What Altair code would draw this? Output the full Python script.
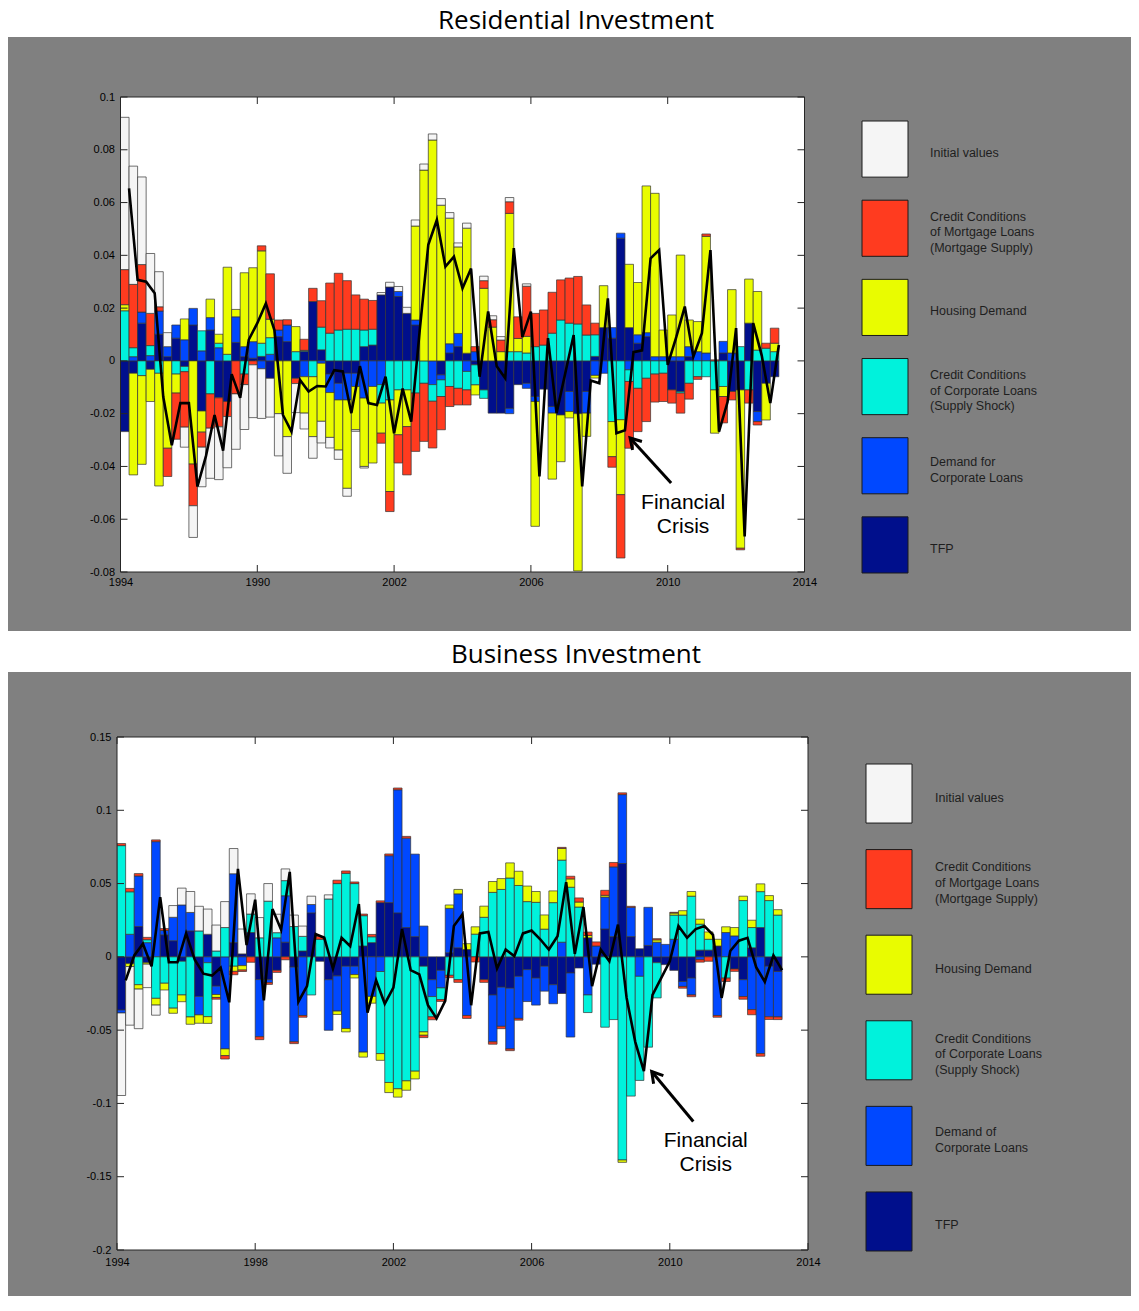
import altair as alt
import pandas as pd

N = 77
START_YEAR = 1994

COMP_KEYS = ["init", "mort", "house", "csup", "cdem", "tfp"]
COMP_COLORS = ["#f5f5f5", "#ff3b1f", "#e9fc00", "#00f2dc", "#0048ff", "#000f8c"]
STACK_ORDER = ["tfp", "cdem", "csup", "house", "mort", "init"]

res_title = "Residential Investment"
bus_title = "Business Investment"

res_legend_labels = ["Initial values",
                     "Credit Conditions\nof Mortgage Loans\n(Mortgage Supply)",
                     "Housing Demand",
                     "Credit Conditions\nof Corporate Loans\n(Supply Shock)",
                     "Demand for\nCorporate Loans",
                     "TFP"]
bus_legend_labels = ["Initial values",
                     "Credit Conditions\nof Mortgage Loans\n(Mortgage Supply)",
                     "Housing Demand",
                     "Credit Conditions\nof Corporate Loans\n(Supply Shock)",
                     "Demand of\nCorporate Loans",
                     "TFP"]

xtick_values = [1994, 1998, 2002, 2006, 2010, 2014]
res_xtick_labels = ["1994", "1990", "2002", "2006", "2010", "2014"]
bus_xtick_labels = ["1994", "1998", "2002", "2006", "2010", "2014"]
res_ytick_values = [-0.08, -0.06, -0.04, -0.02, 0, 0.02, 0.04, 0.06, 0.08, 0.1]
res_ytick_labels = ["-0.08", "-0.06", "-0.04", "-0.02", "0", "0.02", "0.04", "0.06", "0.08", "0.1"]
bus_ytick_values = [-0.2, -0.15, -0.1, -0.05, 0, 0.05, 0.1, 0.15]
bus_ytick_labels = ["-0.2", "-0.15", "-0.1", "-0.05", "0", "0.05", "0.1", "0.15"]

# ---------------- Residential investment (top) ----------------
res_init = [0.0577, 0.0448, 0.0332, 0.0227, 0.0133, 0.0053, 0, -0.0076, -0.012, -0.015,
            -0.019, -0.020, -0.0194, -0.021, -0.017, -0.020, -0.0188, -0.0147, -0.016, -0.0139,
            -0.011, -0.006, -0.0082, -0.0082, -0.004, -0.0035, -0.003, -0.0006, -0.0006, 0,
            0.0009, 0.0018, 0.0019, 0.0023, 0.0023, 0.0023, 0.0023, 0.0025, 0.0021, 0.0015,
            0.0019, 0, 0.0017, 0.0015, 0.0013, 0.0016, 0, 0.0009, 0, 0,
            0, 0, 0, 0, 0, 0, 0, 0, 0, 0,
            0, 0, 0, 0, 0, 0, 0, 0, 0, 0,
            0, 0, 0, 0, 0, 0, 0]
res_mort = [0.0133, 0.024, 0.018, 0.0122, 0.0016, -0.0107, -0.0175, -0.021, -0.0158, -0.0057,
            -0.013, -0.011, -0.0057, -0.0125, -0.004, -0.0015, 0.0019, 0.0172, 0.0038, 0.002,
            -0.002, 0.0042, 0.005, 0.010, 0.019, 0.0215, 0.0184, 0.013, 0.0117, 0.0109,
            -0.0038, -0.0076, -0.0107, -0.0183, -0.0221, -0.022, -0.0177, -0.0126, -0.0076, -0.0063,
            -0.0057, 0.0019, 0.0029, 0.0028, 0.0044, 0.0044, 0.0082, 0.019, 0.0126, 0.0133,
            0.0155, 0.0152, 0.0171, 0.018, 0.0114, 0.0044, 0, -0.004, -0.024, -0.0253,
            -0.0164, -0.0164, -0.0106, -0.0107, -0.005, -0.0076, -0.006, -0.001, 0.0009, 0.0004,
            -0.010, -0.0032, -0.0006, -0.005, -0.0013, 0.0019, 0.0057]
res_house = [0.0023, -0.0385, -0.0336, -0.0122, -0.0427, -0.0331, -0.0072, 0.0079, -0.0391, -0.008,
             0.007, 0.0034, 0.033, 0.0028, 0.028, 0.028, 0.035, 0.007, -0.020, -0.0287,
             0.0095, -0.0138, -0.0227, -0.022, -0.017, -0.019, -0.0335, -0.0164, -0.0259, -0.029,
             -0.0114, -0.0347, -0.017, -0.0139, 0.0356, 0.0723, 0.0837, 0.059, 0.0476, 0.0328,
             0.0474, -0.0038, 0.0275, 0.0128, 0.0035, 0.0524, 0.005, 0.0063, -0.0473, 0,
             -0.025, -0.0177, -0.0024, -0.0596, -0.0088, -0.001, 0.0159, -0.0133, -0.0284, 0.024,
             0.0198, 0.0556, 0.0619, 0.0101, 0.0158, 0.0385, 0.0101, 0.0114, 0.0442, -0.0164,
             -0.0038, 0.024, -0.060, 0.0167, 0.0222, -0.0139, 0.0032]
res_csup = [0.019, 0.0034, -0.0056, 0.0038, -0.0047, 0, -0.005, -0.002, 0, 0.0076,
            -0.0125, 0.0017, 0.0025, 0, -0.005, 0, 0.005, 0.0063, 0, 0,
            0.0035, 0.0004, -0.006, 0.0086, 0.0105, 0.0117, 0.012, 0.012, 0.0063, 0.006,
            -0.007, -0.0148, -0.011, -0.011, -0.0122, -0.0085, -0.0063, -0.0063, -0.0097, -0.0104,
            -0.007, -0.0076, -0.0032, 0, 0, 0.0035, 0.0035, 0.003, 0.0054, 0.006,
            0.0105, 0.0155, 0.0143, 0.014, 0.0098, 0.0082, 0, -0.023, -0.0223, -0.0044,
            -0.0104, -0.0066, -0.005, -0.0047, 0, -0.0006, -0.0085, -0.006, -0.006, -0.011,
            -0.0097, 0, 0.0054, -0.011, 0.0041, 0.0048, 0.0035]
res_cdem = [0, 0.0016, 0.0042, 0.002, 0.0088, 0.0038, 0.005, 0.008, 0.0063, 0.0038,
            0.0047, 0.005, 0, 0.0097, 0.0038, 0.0063, -0.003, 0.0025, 0.0025, 0.0063,
            0, -0.006, 0, -0.0009, -0.007, -0.0063, -0.0101, -0.005, -0.0141, -0.0097,
            -0.009, 0, 0.0019, 0, 0.0019, 0, -0.009, -0.0019, 0.0035, 0.005,
            -0.004, 0.0035, 0, 0, 0, -0.002, 0, -0.0019, -0.0019, 0,
            -0.0025, 0, -0.0076, 0, -0.0082, -0.0055, -0.0047, 0.004, 0.0019, -0.0034,
            0.0032, 0.0015, 0.0016, 0.0016, 0.0016, 0.0016, 0.0038, 0.0035, 0.003, 0,
            0.0044, 0.003, 0, 0, -0.0038, 0, 0]
res_tfp = [-0.0268, -0.0047, 0.0143, -0.0032, 0.0101, 0.0016, 0.0086, -0.0021, 0.0136, -0.019,
           0.0117, -0.014, -0.0154, 0.007, 0.0016, 0.001, 0.0017, -0.0066, 0.0092, 0.0073,
           -0.0066, 0.0036, 0.0225, 0.0042, -0.005, -0.0085, -0.0047, -0.0047, 0.0054, 0.006,
           0.025, 0.028, 0.0244, 0.018, 0.0136, 0, 0, -0.0053, 0.003, 0.0054,
           0.0029, -0.0015, -0.011, -0.0198, -0.0198, -0.018, -0.009, -0.0085, -0.0135, -0.0107,
           -0.0173, -0.0205, -0.0116, -0.020, -0.0116, 0.0017, 0.0126, 0.0086, 0.0465, 0.0126,
           0.0067, 0.0092, 0, 0, -0.011, -0.0116, 0.0016, 0, 0, 0,
           0.003, -0.0116, -0.011, 0.0143, -0.0192, -0.0085, -0.006]
res_line = [0.0654, 0.0307, 0.030, 0.0256, -0.0136, -0.032, -0.016, -0.016, -0.0476, -0.036,
            -0.0205, -0.034, -0.005, -0.014, 0.008, 0.0143, 0.0218, 0.0117, -0.0205, -0.0268,
            -0.0072, -0.0116, -0.0095, -0.0097, -0.0035, -0.004, -0.0198, -0.002, -0.016, -0.0167,
            -0.006, -0.0274, -0.0105, -0.023, 0.0117, 0.044, 0.0534, 0.0357, 0.0395, 0.0275,
            0.035, -0.006, 0.0187, -0.002, -0.0066, 0.0427, 0.009, 0.0187, -0.0438, 0.0086,
            -0.0198, -0.005, 0.0098, -0.0476, -0.0074, -0.0085, 0.0237, -0.0274, -0.0263, 0.0033,
            0.004, 0.0389, 0.042, -0.0015, 0.009, 0.0206, 0.0016, 0.0105, 0.042, -0.0268,
            -0.0156, 0.0124, -0.0665, 0.0143, 0.002, -0.016, 0.006]

# ---------------- Business investment (bottom) ----------------
bus_init = [-0.0563, -0.040, -0.027, -0.016, -0.0069, 0, 0.008, 0.0115, 0.0143, 0.0168,
            0.0172, 0.0177, 0.0177, 0.0172, 0.017, 0.0138, 0.0138, 0.012, 0.0126, 0.008,
            0.0078, 0.007, 0.0057, 0, 0.0028, 0, 0, 0, 0, 0,
            0, 0, 0, 0, 0, 0, 0, 0, 0, 0,
            0, 0, 0, 0, 0, 0, 0, 0, 0, 0,
            0, 0, 0, 0, 0, 0, 0, 0, 0, 0,
            0, 0, 0, 0, 0, 0, 0, 0, 0, 0,
            0, 0, 0, 0, 0, 0, 0]
bus_mort = [0.0014, 0.0023, 0.0016, 0.0016, 0.0012, 0.0013, 0, 0, 0, 0,
            0, -0.0012, -0.0023, -0.0023, -0.001, -0.0037, -0.002, -0.0012, -0.0014, -0.002,
            -0.0012, -0.0012, 0, 0.002, 0, 0.0023, 0.0016, 0.0011, 0.0011, 0.0016,
            0.0012, 0.0012, 0.0012, 0.0012, 0, -0.0016, -0.002, -0.0012, -0.0016, -0.0018,
            -0.002, -0.0035, -0.0018, -0.0016, -0.0016, -0.0012, -0.0012, 0, 0, 0,
            0, 0.0007, 0.0018, 0.0028, 0.0023, 0.0028, 0.0034, 0.003, 0.0012, 0.0007,
            0, 0, 0.0008, 0, 0.0005, -0.0012, -0.0012, -0.0016, -0.003, -0.0012,
            -0.0023, -0.0016, -0.0018, -0.0035, -0.0018, -0.0018, -0.0018]
bus_house = [0, -0.002, -0.003, -0.001, -0.0046, -0.0046, -0.0035, -0.0046, -0.005, -0.0057,
             -0.0046, -0.002, -0.0046, -0.0035, -0.003, 0, 0, 0, 0, 0,
             0, 0, 0, 0, 0, -0.0023, -0.0023, -0.0023, -0.0034, -0.0046,
             -0.0046, -0.0069, -0.0057, -0.0064, -0.0053, -0.0023, 0, 0, 0.0023, 0.003,
             0.004, 0.005, 0.0076, 0.0074, 0.0074, 0.0103, 0.0097, 0.0106, 0.0074, 0.0097,
             0.008, 0.008, 0.0057, 0.0034, 0.0016, 0, 0.0012, 0, -0.0016, 0,
             0, 0, 0.0016, 0, 0.0014, 0.003, 0.0032, 0.0034, 0.005, 0.0046,
             0.0039, 0.0057, 0.003, 0.005, 0.0053, 0.0034, 0.0037]
bus_csup = [0.0759, 0.029, -0.019, 0.002, -0.0283, -0.018, -0.035, -0.023, -0.041, 0.0177,
            -0.0368, 0.004, 0.020, -0.0064, 0, 0.0126, 0.013, 0.038, 0.0035, 0.0103,
            0.0207, 0.010, -0.026, 0.012, 0.0395, 0.050, 0.057, 0.050, 0.0207, 0.004,
            -0.056, -0.0857, -0.090, -0.0846, -0.078, -0.0448, -0.0138, -0.008, -0.0126, -0.0156,
            0, 0.0155, 0.027, 0.044, 0.046, 0.0538, 0.0487, 0.0377, 0.0372, 0.0189,
            0.037, 0.056, 0.0475, 0.034, -0.012, 0, -0.048, -0.0428, -0.1386, -0.095,
            -0.071, -0.0616, -0.024, 0, 0.0165, 0.0285, 0.0414, 0.0177, 0.0074, 0,
            -0.0145, 0, 0.0384, 0.0138, 0.0245, 0.0384, 0.0285]
bus_cdem = [-0.002, 0.0154, 0.0345, 0.0097, 0.0786, 0.003, 0.016, 0.0354, 0.0126, -0.0126,
            -0.004, -0.0057, -0.0628, 0.047, -0.006, 0, -0.039, -0.002, 0.013, 0.0317,
            -0.051, -0.040, 0.0057, 0, -0.0345, -0.024, -0.0425, -0.0057, -0.065, -0.027,
            -0.010, 0.032, 0.084, 0.061, 0.0563, 0.021, -0.0115, -0.012, 0.0303, 0.0368,
            -0.040, 0, 0, -0.032, -0.0267, -0.0414, -0.0287, -0.0218, -0.0184, -0.017,
            -0.013, 0.010, -0.0437, 0, -0.026, 0.0074, 0.0218, 0.0476, 0.047, 0.020,
            -0.0133, 0.026, 0.010, 0.0085, 0.012, -0.0034, -0.0115, -0.002, 0, -0.040,
            0.0166, 0.0143, -0.0115, -0.036, -0.066, -0.0345, -0.031]
bus_tfp = [-0.0363, -0.0046, 0.0207, -0.004, 0, 0.015, 0.011, -0.003, 0.0177, -0.027,
           0.0154, -0.020, 0, 0.0097, 0.002, 0.0166, -0.0155, -0.0156, -0.0092, 0.010,
           -0.007, 0.004, 0.030, -0.003, -0.0156, -0.013, -0.0064, -0.0064, 0.0074, 0.0097,
           0.037, 0.037, 0.030, 0.020, 0.0138, -0.0064, -0.0156, -0.0092, 0.0028, 0.0062,
           0.005, 0, -0.0156, -0.026, -0.0207, -0.0214, -0.0133, -0.0087, -0.0145, -0.0064,
           -0.019, -0.025, -0.011, -0.0076, 0.013, -0.005, 0.019, 0.0138, 0.0637, 0.0138,
           0.0055, 0.0078, -0.004, -0.0053, -0.0092, -0.0168, -0.0145, 0.0046, 0.0046, 0.0074,
           0, -0.0083, -0.0156, 0.0062, 0.020, -0.0064, -0.010]
bus_line = [-0.016, 0.001, 0.009, -0.0065, 0.0407, -0.0037, -0.0037, 0.016, -0.002, -0.0115,
            -0.0128, -0.0074, -0.031, 0.060, 0.008, 0.039, -0.0297, 0.0326, 0.0185, 0.058,
            -0.0306, -0.020, 0.0155, 0.013, -0.008, 0.013, 0.0073, 0.036, -0.038, -0.016,
            -0.032, -0.021, 0.019, -0.009, -0.012, -0.033, -0.042, -0.030, 0.021, 0.029,
            -0.033, 0.016, 0.017, -0.008, 0.005, 0.0005, 0.016, 0.018, 0.012, 0.005,
            0.014, 0.051, 0.002, 0.034, -0.020, 0.005, -0.003, 0.022, -0.028, -0.058,
            -0.078, -0.026, -0.0145, -0.003, 0.021, 0.013, 0.019, 0.021, 0.015, -0.028,
            0.004, 0.011, 0.013, -0.007, -0.017, 0.001, -0.009]

# annotation anchors (year, value); text anchor is the centre of its first line
res_ann_text = [2010.45, -0.0540]
res_ann_tail = [2010.10, -0.0463]
res_ann_tip = [2008.90, -0.0292]
bus_ann_text = [2011.04, -0.1255]
bus_ann_tail = [2010.68, -0.1123]
bus_ann_tip = [2009.476, -0.0782]

GREY = "#808080"
FRAME = "#262626"
AXFONT = "Liberation Sans"
ARROW_PATH = "M -0.6 1 L 0 0 L 0.6 1"
LEG_LH = 15.7


def make_stack(comps):
    rows = []
    for i in range(N):
        pos = 0.0
        neg = 0.0
        for key in STACK_ORDER:
            v = comps[key][i]
            t0 = START_YEAR + 0.25 * i
            t1 = START_YEAR + 0.25 * (i + 1)
            if v > 0:
                rows.append(dict(t0=t0, t1=t1, y0=pos, y1=pos + v, comp=key))
                pos += v
            elif v < 0:
                rows.append(dict(t0=t0, t1=t1, y0=neg, y1=neg + v, comp=key))
                neg += v
    return pd.DataFrame(rows)


def label_expr(values, labels):
    expr = "''"
    for v, l in reversed(list(zip(values, labels))):
        expr = f"abs(datum.value - ({v})) < 1e-9 ? '{l}' : {expr}"
    return expr


def panel(comps, line, legend_labels, xlabs, yvals, ylabs, ydom, W, H, geo,
          title, ann_text, ann_tail, ann_tip, head_angle):
    for k, v in comps.items():
        assert len(v) == N, (k, len(v))
    assert len(line) == N
    xscale = alt.Scale(domain=[1994, 2014], nice=False, zero=False)
    yscale = alt.Scale(domain=ydom, nice=False, zero=False)
    cscale = alt.Scale(domain=COMP_KEYS, range=COMP_COLORS)
    xaxis = alt.Axis(values=xtick_values, labelExpr=label_expr(xtick_values, xlabs),
                     ticks=False, tickSize=0, domain=False, grid=False, title=None,
                     labelFont=AXFONT, labelFontSize=11, labelColor="#000000",
                     labelPadding=geo["xpad"], labelFlush=False, labelOverlap=False, zindex=1)
    yaxis = alt.Axis(values=yvals, labelExpr=label_expr(yvals, ylabs),
                     ticks=False, tickSize=0, domain=False, grid=False, title=None,
                     labelFont=AXFONT, labelFontSize=11, labelColor="#000000",
                     labelPadding=6, labelOverlap=False, zindex=1)
    one = pd.DataFrame({"a": [0]})

    layers = []
    gx0, gx1, gy0, gy1 = geo["grey"]
    layers.append(alt.Chart(one).mark_rect(color=GREY).encode(
        x=alt.value(gx0), x2=alt.value(gx1), y=alt.value(gy0), y2=alt.value(gy1)))
    if "anchor" in geo:
        ay0 = geo["anchor"]
        layers.append(alt.Chart(one).mark_rect(color="white").encode(
            x=alt.value(gx0), x2=alt.value(gx1), y=alt.value(ay0), y2=alt.value(gy0)))
    layers.append(alt.Chart(one).mark_rect(color="white").encode(
        x=alt.value(0), x2=alt.value(W), y=alt.value(0), y2=alt.value(H)))

    sdf = make_stack(comps)
    layers.append(alt.Chart(sdf).mark_rect(stroke="#333333", strokeWidth=0.7, clip=True).encode(
        x=alt.X("t0:Q", scale=xscale, axis=xaxis),
        x2="t1:Q",
        y=alt.Y("y0:Q", scale=yscale, axis=yaxis),
        y2="y1:Q",
        color=alt.Color("comp:N", scale=cscale, legend=None)))

    ldf = pd.DataFrame({"te": [START_YEAR + 0.25 * (i + 1) for i in range(N)], "line": line})
    layers.append(alt.Chart(ldf).mark_line(color="black", strokeWidth=2.6, clip=True).encode(
        x=alt.X("te:Q", scale=xscale, axis=xaxis),
        y=alt.Y("line:Q", scale=yscale, axis=None)))

    xt = pd.DataFrame({"v": xtick_values})
    yt = pd.DataFrame({"v": yvals})
    TL = 7
    layers.append(alt.Chart(xt).mark_rule(color=FRAME, strokeWidth=1).encode(
        x=alt.X("v:Q", scale=xscale, axis=xaxis), y=alt.value(H), y2=alt.value(H - TL)))
    layers.append(alt.Chart(xt).mark_rule(color=FRAME, strokeWidth=1).encode(
        x=alt.X("v:Q", scale=xscale, axis=xaxis), y=alt.value(0), y2=alt.value(TL)))
    layers.append(alt.Chart(yt).mark_rule(color=FRAME, strokeWidth=1).encode(
        y=alt.Y("v:Q", scale=yscale, axis=None), x=alt.value(0), x2=alt.value(TL)))
    layers.append(alt.Chart(yt).mark_rule(color=FRAME, strokeWidth=1).encode(
        y=alt.Y("v:Q", scale=yscale, axis=None), x=alt.value(W), x2=alt.value(W - TL)))

    layers.append(alt.Chart(one).mark_rect(fillOpacity=0, stroke=FRAME, strokeWidth=1).encode(
        x=alt.value(0), x2=alt.value(W), y=alt.value(0), y2=alt.value(H)))

    adf = pd.DataFrame({"x": [ann_text[0]], "y": [ann_text[1]], "label": ["Financial\nCrisis"]})
    layers.append(alt.Chart(adf).mark_text(font=AXFONT, fontSize=21, lineBreak="\n", lineHeight=24,
                                           align="center", baseline="middle", color="black").encode(
        x=alt.X("x:Q", scale=xscale, axis=xaxis),
        y=alt.Y("y:Q", scale=yscale, axis=None),
        text="label:N"))
    rdf = pd.DataFrame({"x": [ann_tail[0]], "y": [ann_tail[1]],
                        "x2": [ann_tip[0]], "y2": [ann_tip[1]]})
    layers.append(alt.Chart(rdf).mark_rule(color="black", strokeWidth=3).encode(
        x=alt.X("x:Q", scale=xscale, axis=xaxis),
        y=alt.Y("y:Q", scale=yscale, axis=None),
        x2="x2:Q", y2="y2:Q"))
    layers.append(alt.Chart(rdf).mark_point(shape=ARROW_PATH, filled=False, size=450, strokeWidth=3,
                                            color="black", opacity=1, angle=head_angle).encode(
        x=alt.X("x2:Q", scale=xscale, axis=xaxis),
        y=alt.Y("y2:Q", scale=yscale, axis=None)))

    lx0, lx1, ly0, ly1, pin, tx = geo["legend"]
    nlines = [lab.count("\n") + 1 for lab in legend_labels]
    legdf = pd.DataFrame({"comp": COMP_KEYS, "label": legend_labels, "n": nlines})
    band = alt.Scale(domain=COMP_KEYS, range=[ly0, ly1], paddingInner=pin, paddingOuter=0)
    point = alt.Scale(type="point", domain=COMP_KEYS, range=[ly0, ly1], padding=(1 - pin) / 2)
    layers.append(alt.Chart(legdf).mark_rect(stroke="#1a1a1a", strokeWidth=1).encode(
        x=alt.value(lx0), x2=alt.value(lx1),
        y=alt.Y("comp:N", scale=band, axis=None),
        color=alt.Color("comp:N", scale=cscale, legend=None)))
    for n in sorted(set(nlines)):
        sub = legdf[legdf["n"] == n]
        layers.append(alt.Chart(sub).mark_text(align="left", baseline="middle",
                                               dy=4 - (n - 1) * LEG_LH / 2, font=AXFONT,
                                               fontSize=12.5, lineHeight=LEG_LH, lineBreak="\n",
                                               color="#1e1e1e").encode(
            x=alt.value(tx),
            y=alt.Y("comp:N", scale=point, axis=None),
            text="label:N"))

    ttx, tty = geo["title"]
    layers.append(alt.Chart(one).mark_text(font="Open Sans", fontSize=26, align="center",
                                           baseline="alphabetic", color="black").encode(
        x=alt.value(ttx), y=alt.value(tty), text=alt.value(title)))

    return alt.layer(*layers).resolve_scale(y="independent").properties(width=W, height=H)


res_comps = {"init": res_init, "mort": res_mort, "house": res_house,
             "csup": res_csup, "cdem": res_cdem, "tfp": res_tfp}
bus_comps = {"init": bus_init, "mort": bus_mort, "house": bus_house,
             "csup": bus_csup, "cdem": bus_cdem, "tfp": bus_tfp}

top = panel(res_comps, res_line, res_legend_labels, res_xtick_labels, res_ytick_values,
            res_ytick_labels, [-0.08, 0.1], 684, 475,
            {"grey": (-112.5, 1010.5, -60, 534), "anchor": -89,
             "legend": (741.5, 787.5, 24, 476, 0.291, 809.5),
             "title": (455.5, -68), "xpad": 4},
            res_title, res_ann_text, res_ann_tail, res_ann_tip, 317.7)

bottom = panel(bus_comps, bus_line, bus_legend_labels, bus_xtick_labels, bus_ytick_values,
               bus_ytick_labels, [-0.2, 0.15], 691, 513,
               {"grey": (-109, 1014, -65, 559),
                "legend": (749, 795, 27, 514, 0.31, 818),
                "title": (459, -74), "xpad": 6},
               bus_title, bus_ann_text, bus_ann_tail, bus_ann_tip, 320.2)

chart = alt.vconcat(top, bottom, spacing=165, bounds="flush", center=True).properties(
    padding=0, background="white").configure_view(strokeWidth=0)

chart.save("out.html", embed_options={"renderer": "svg", "actions": False})
